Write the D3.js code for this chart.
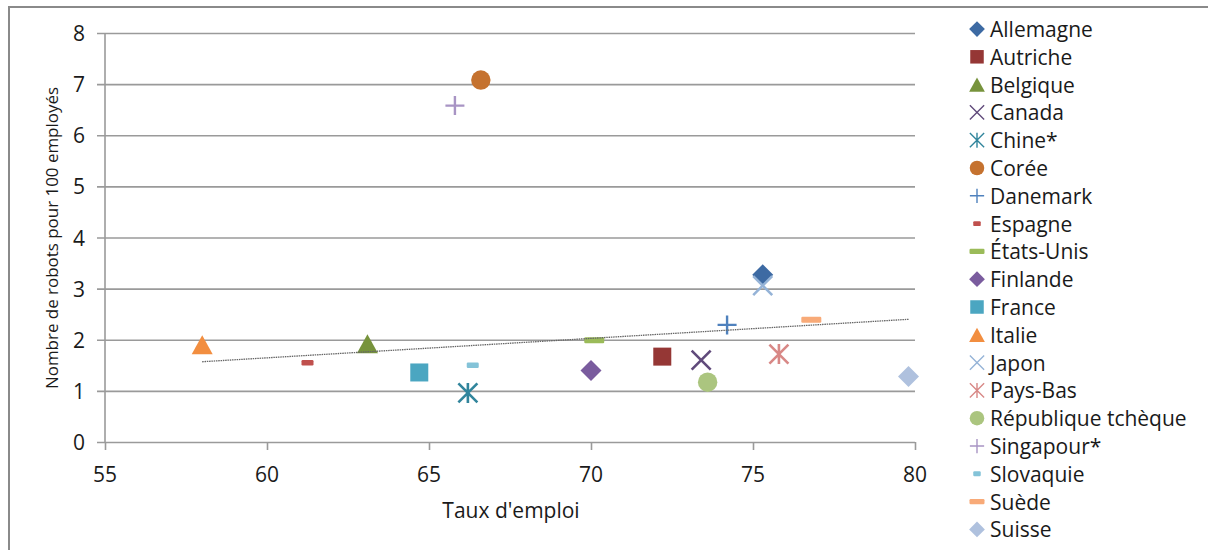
<!DOCTYPE html>
<html>
<head>
<meta charset="utf-8">
<script src="https://cdn.jsdelivr.net/npm/d3@7/dist/d3.min.js"></script>
<style>
  html, body { margin: 0; padding: 0; background: #fff; }
  svg { display: block; }
  text { font-family: "Open Sans", "Liberation Sans", sans-serif; fill: #1a1a1a; }
</style>
</head>
<body>
<svg id="chart" width="1208" height="550"></svg>
<script>
// ---- data ----
const categories = ["Allemagne","Autriche","Belgique","Canada","Chine*","Corée","Danemark","Espagne","États-Unis","Finlande","France","Italie","Japon","Pays-Bas","République tchèque","Singapour*","Slovaquie","Suède","Suisse"];
const employmentRate = [75.3, 72.2, 63.1, 73.4, 66.2, 66.6, 74.2, 61.25, 70.1, 70.0, 64.7, 58.0, 75.3, 75.8, 73.6, 65.8, 66.35, 76.8, 79.8];
const robotsPer100 = [3.27, 1.67, 1.92, 1.6, 0.96, 7.08, 2.29, 1.55, 1.99, 1.4, 1.36, 1.9, 3.06, 1.72, 1.17, 6.58, 1.5, 2.39, 1.28];
const trendX = [58.0, 79.8];
const trendY = [1.57, 2.40];
const xTicks = [55, 60, 65, 70, 75, 80];
const yTicks = [0, 1, 2, 3, 4, 5, 6, 7, 8];

// ---- styles ----
const markerShapes = ["diamond","square","triangle","x","asterisk","circle","plus","shortdash","longdash","diamond","square","triangle","x","asterisk","circle","plus","shortdash","longdash","diamond"];
const markerColors = ["#3D6AA3","#953735","#77933C","#604A7B","#31859C","#C5722F","#4F81BD","#C0504D","#9BBB59","#7A5C9E","#4BA6C1","#F28E40","#95B3D7","#D88886","#ABC57F","#A894C4","#84C3D8","#F8AA78","#AFC1DE"];

const svg = d3.select("#chart");

// outer border
svg.append("rect").attr("x", 9).attr("y", 7).attr("width", 1220).attr("height", 570)
  .attr("fill", "none").attr("stroke", "#8a8a8a").attr("stroke-width", 2);

const x = d3.scaleLinear().domain([55, 80]).range([105, 915]);
const y = d3.scaleLinear().domain([0, 8]).range([442, 33]);

// gridlines + y axis
const yAxis = d3.axisLeft(y).tickValues(yTicks).tickSize(-(915 - 97)).tickPadding(0).tickFormat("");
const gy = svg.append("g").attr("transform", "translate(97,0)").call(yAxis);
gy.select(".domain").remove();
gy.selectAll(".tick line").attr("stroke", "#9a9a9a").attr("stroke-width", 1.6);

// y tick labels
svg.append("g").selectAll("text").data(yTicks).join("text")
  .attr("x", 85).attr("y", d => y(d)).attr("text-anchor", "end")
  .attr("dominant-baseline", "central").attr("font-size", 21).text(d => d);

// y axis vertical line
svg.append("line").attr("x1", x(55)).attr("x2", x(55)).attr("y1", y(8)).attr("y2", y(0))
  .attr("stroke", "#9a9a9a").attr("stroke-width", 1.6);

// x axis
const xAxis = d3.axisBottom(x).tickValues(xTicks).tickSize(8).tickFormat("");
const gx = svg.append("g").attr("transform", `translate(0,${y(0)})`).call(xAxis);
gx.select(".domain").remove();
gx.selectAll(".tick line").attr("stroke", "#9a9a9a").attr("stroke-width", 1.6);

svg.append("g").selectAll("text").data(xTicks).join("text")
  .attr("x", d => x(d)).attr("y", 482).attr("text-anchor", "middle")
  .attr("font-size", 21).text(d => d);

// axis titles
svg.append("text").attr("x", 511).attr("y", 518).attr("text-anchor", "middle")
  .attr("font-size", 21).text("Taux d'emploi");
svg.append("text").attr("transform", "translate(58,238) rotate(-90)")
  .attr("text-anchor", "middle").attr("font-size", 17)
  .attr("textLength", 302).attr("lengthAdjust", "spacingAndGlyphs")
  .text("Nombre de robots pour 100 employés");

// marker drawing
function drawMarker(g, shape, color, k) {
  if (shape === "diamond") {
    const h = 10.5 * k;
    g.append("path").attr("d", `M0,${-h}L${h},0L0,${h}L${-h},0Z`).attr("fill", color);
  } else if (shape === "square") {
    const s = 18 * k;
    g.append("rect").attr("x", -s/2).attr("y", -s/2).attr("width", s).attr("height", s).attr("fill", color);
  } else if (shape === "triangle") {
    const w = 21 * k, h = 19 * k;
    g.append("path").attr("d", `M0,${-h/2}L${w/2},${h/2}L${-w/2},${h/2}Z`).attr("fill", color);
  } else if (shape === "circle") {
    g.append("circle").attr("r", 9.7 * k).attr("fill", color);
  } else if (shape === "x") {
    const h = 9.5 * k;
    g.append("path").attr("d", `M${-h},${-h}L${h},${h}M${h},${-h}L${-h},${h}`)
      .attr("stroke", color).attr("stroke-width", k < 1 ? 1.4 : 2.6).attr("fill", "none");
  } else if (shape === "asterisk") {
    const h = 9.5 * k;
    g.append("path").attr("d", `M${-h},${-h}L${h},${h}M${h},${-h}L${-h},${h}M0,${-h*1.05}L0,${h*1.05}`)
      .attr("stroke", color).attr("stroke-width", k < 1 ? 1.4 : 2.6).attr("fill", "none");
  } else if (shape === "plus") {
    const h = 9.5 * k;
    g.append("path").attr("d", `M${-h},0L${h},0M0,${-h}L0,${h}`)
      .attr("stroke", color).attr("stroke-width", k < 1 ? 1.4 : 2.4).attr("fill", "none");
  } else if (shape === "shortdash") {
    const w = (k < 1 ? 7.5 : 12), h = 5.5 * (k < 1 ? 0.9 : 1);
    g.append("rect").attr("x", -w/2).attr("y", -h/2).attr("width", w).attr("height", h).attr("rx", 1.2).attr("fill", color);
  } else if (shape === "longdash") {
    const w = 20 * k, h = 6 * (k < 1 ? 0.85 : 1);
    g.append("rect").attr("x", -w/2).attr("y", -h/2).attr("width", w).attr("height", h).attr("rx", 1.2).attr("fill", color);
  }
}

// points
const pts = svg.append("g");
categories.forEach((c, i) => {
  const g = pts.append("g").attr("transform", `translate(${x(employmentRate[i])},${y(robotsPer100[i])})`);
  drawMarker(g, markerShapes[i], markerColors[i], 1);
});

// trend line
svg.append("line")
  .attr("x1", x(trendX[0])).attr("y1", y(trendY[0]))
  .attr("x2", x(trendX[1])).attr("y2", y(trendY[1]))
  .attr("stroke", "#666").attr("stroke-width", 1.3).attr("stroke-dasharray", "1.5,0.8");

// legend
const legend = svg.append("g");
categories.forEach((c, i) => {
  const ly = 29 + i * 27.8;
  const g = legend.append("g").attr("transform", `translate(977,${ly})`);
  drawMarker(g, markerShapes[i], markerColors[i], 0.75);
  legend.append("text").attr("x", 990).attr("y", ly).attr("dominant-baseline", "central")
    .attr("font-size", 21).text(c);
});
</script>
</body>
</html>
